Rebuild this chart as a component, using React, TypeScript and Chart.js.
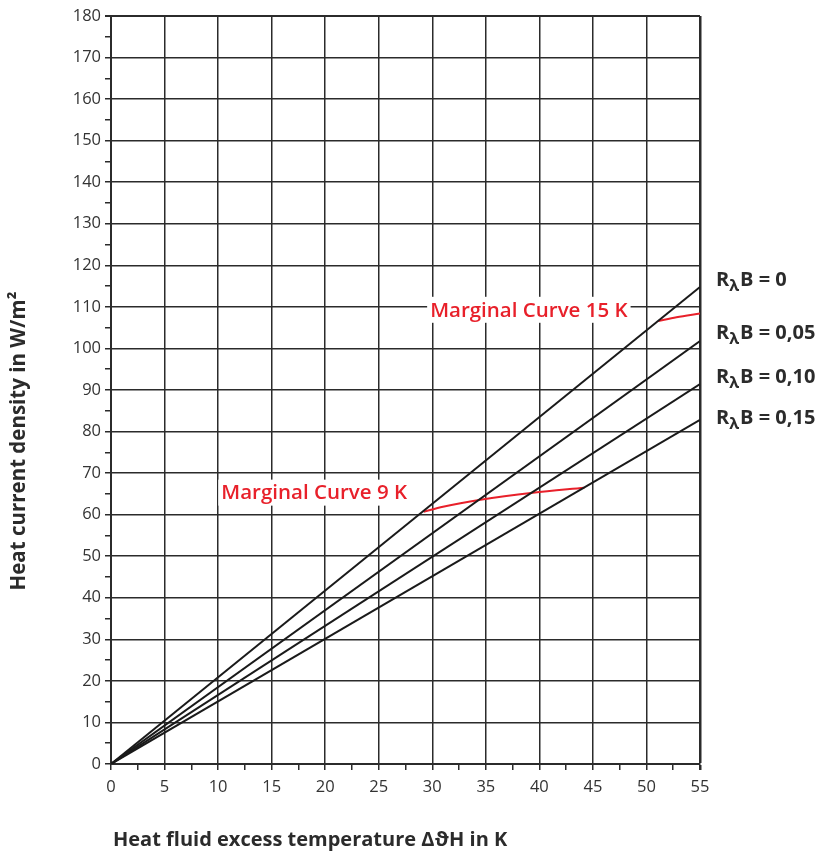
import React, { useEffect, useRef } from "react";
import { Chart, registerables } from "chart.js";

Chart.register(...registerables);

// ---- data ----
const resistanceLabels = ["0", "0,05", "0,10", "0,15"];
const lineStartX = 0;
const lineEndX = 55;
const lineEndY = [114.8, 101.8, 91.4, 82.8];
const rightLabelY = [116.3, 103.7, 93.1, 83.2];

const curve9X = [29.2, 31, 34.5, 39.4, 44.2];
const curve9Y = [60.7, 61.9, 63.6, 65.3, 66.5];
const curve15X = [51.1, 52.8, 55];
const curve15Y = [106.6, 107.5, 108.4];

const curve9Label = "Marginal Curve 9 K";
const curve15Label = "Marginal Curve 15 K";
const curve9LabelPos = { x: 10.3, y: 65.3 };
const curve15LabelPos = { x: 29.8, y: 109.3 };

const xTitle = "Heat fluid excess temperature \u0394\u03D1H in K";
const yTitle = "Heat current density in W/m\u00B2";

const FONT = "'Open Sans', 'Noto Sans', sans-serif";
const INK = "#2b2b2b";
const RED = "#e8202a";

const textPlugin = {
  id: "textPlugin",
  afterDraw(chart: any) {
    const ctx = chart.ctx as CanvasRenderingContext2D;
    const xs = chart.scales.x;
    const ys = chart.scales.y;
    ctx.save();

    // red labels with white background
    const drawRed = (txt: string, pos: { x: number; y: number }) => {
      ctx.font = `600 20.5px ${FONT}`;
      const w = ctx.measureText(txt).width;
      const px = xs.getPixelForValue(pos.x);
      const py = ys.getPixelForValue(pos.y);
      ctx.fillStyle = "#ffffff";
      ctx.fillRect(px - 3, py - 13, w + 6, 26);
      ctx.fillStyle = RED;
      ctx.textBaseline = "middle";
      ctx.textAlign = "left";
      ctx.fillText(txt, px, py + 1);
    };
    drawRed(curve15Label, curve15LabelPos);
    drawRed(curve9Label, curve9LabelPos);

    // right labels R_λB = ...
    resistanceLabels.forEach((lab, i) => {
      const py = ys.getPixelForValue(rightLabelY[i]);
      let px = chart.chartArea.right + 16;
      ctx.fillStyle = INK;
      ctx.textBaseline = "middle";
      ctx.textAlign = "left";
      ctx.font = `bold 20px ${FONT}`;
      ctx.fillText("R", px, py);
      px += ctx.measureText("R").width;
      ctx.font = `bold 16px ${FONT}`;
      ctx.fillText("\u03BB", px, py + 6);
      px += ctx.measureText("\u03BB").width + 1;
      ctx.font = `bold 20px ${FONT}`;
      ctx.fillText("B = " + lab, px, py);
    });

    // axis titles
    ctx.fillStyle = INK;
    ctx.font = `bold 20px ${FONT}`;
    ctx.textAlign = "left";
    ctx.textBaseline = "middle";
    ctx.fillText(xTitle, 113, 840);

    ctx.save();
    ctx.translate(19, 441);
    ctx.rotate(-Math.PI / 2);
    ctx.textAlign = "center";
    ctx.font = `bold 20.5px ${FONT}`;
    ctx.fillText(yTitle, 0, 0);
    ctx.restore();

    ctx.restore();
  },
};

export default function App() {
  const ref = useRef<HTMLCanvasElement | null>(null);

  useEffect(() => {
    document.body.style.margin = "0";
    if (!ref.current) return;

    const lineSets = lineEndY.map((end, i) => ({
      label: "R\u03BBB = " + resistanceLabels[i],
      data: [
        { x: lineStartX, y: 0 },
        { x: lineEndX, y: end },
      ],
      borderColor: "#1a1a1a",
      borderWidth: 2,
      pointRadius: 0,
      showLine: true,
      fill: false,
    }));

    const curveSet = (xs: number[], ys: number[], label: string) => ({
      label,
      data: xs.map((x, i) => ({ x, y: ys[i] })),
      borderColor: RED,
      borderWidth: 2,
      pointRadius: 0,
      showLine: true,
      fill: false,
      cubicInterpolationMode: "monotone" as const,
    });

    const gridColor = (ctx: any) =>
      ctx.tick && Math.abs(ctx.tick.value % 5) < 1e-6 ? INK : "rgba(0,0,0,0)";
    const gridColorY = (ctx: any) =>
      ctx.tick && Math.abs(ctx.tick.value % 10) < 1e-6 ? INK : "rgba(0,0,0,0)";

    const chart = new Chart(ref.current, {
      type: "scatter",
      data: {
        datasets: [
          ...lineSets,
          curveSet(curve9X, curve9Y, curve9Label),
          curveSet(curve15X, curve15Y, curve15Label),
        ] as any,
      },
      options: {
        animation: false,
        responsive: false,
        layout: { padding: { left: 0, right: 122, top: 16, bottom: 0 } },
        plugins: {
          legend: { display: false },
          tooltip: { enabled: false },
        },
        scales: {
          x: {
            type: "linear",
            min: 0,
            max: 55,
            afterFit: (s: any) => {
              s.height = 90;
            },
            border: { color: INK, width: 2 },
            grid: {
              color: gridColor,
              tickColor: INK,
              tickLength: 6,
              lineWidth: (ctx: any) => (ctx.tick && ctx.tick.value === 55 ? 2.5 : 1.5),
            },
            ticks: {
              stepSize: 2.5,
              autoSkip: false,
              maxRotation: 0,
              padding: 7,
              color: "#333",
              font: { family: FONT, size: 16.5 },
              callback: (v: any) => (Math.abs(v % 5) < 1e-6 ? String(v) : ""),
            },
          },
          y: {
            type: "linear",
            min: 0,
            max: 180,
            afterFit: (s: any) => {
              s.width = 111;
            },
            border: { color: INK, width: 2 },
            grid: {
              color: gridColorY,
              tickColor: INK,
              tickLength: 6,
              lineWidth: (ctx: any) => (ctx.tick && ctx.tick.value === 180 ? 2 : 1.5),
            },
            ticks: {
              stepSize: 5,
              autoSkip: false,
              padding: 4,
              color: "#333",
              font: { family: FONT, size: 16.5 },
              callback: (v: any) => (Math.abs(v % 10) < 1e-6 ? String(v) : ""),
            },
          },
        },
      },
      plugins: [textPlugin],
    });

    return () => chart.destroy();
  }, []);

  return (
    <div style={{ width: 822, height: 854 }}>
      <canvas ref={ref} width={822} height={854} style={{ display: "block" }} />
    </div>
  );
}
